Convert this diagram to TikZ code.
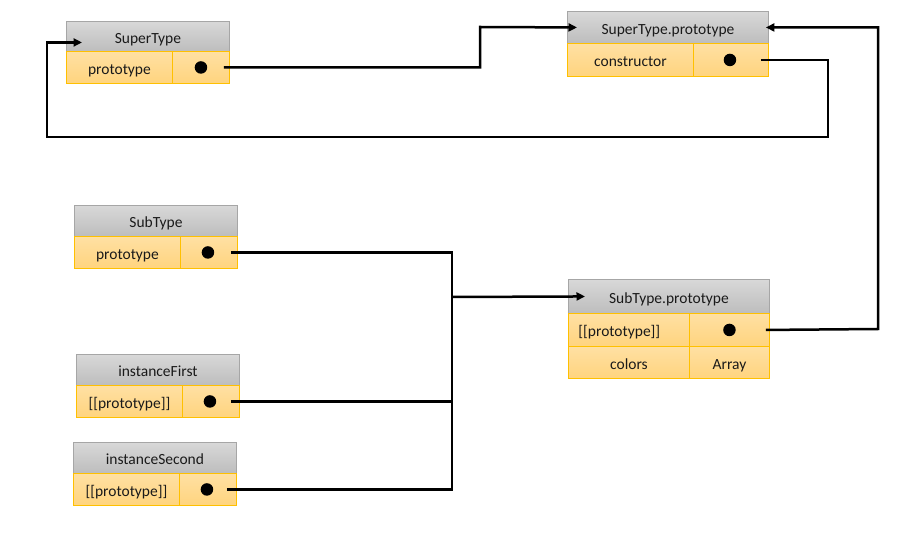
\documentclass[tikz,border=0pt]{standalone}
\usepackage{fontspec}
\setmainfont{Carlito}
\usetikzlibrary{arrows.meta}
\definecolor{hdrtop}{HTML}{D8D8D8}
\definecolor{hdrbot}{HTML}{BDBDBD}
\definecolor{hdrline}{HTML}{A6A6A6}
\definecolor{celltop}{HTML}{FFE0A3}
\definecolor{cellbot}{HTML}{FFD47E}
\definecolor{cellline}{HTML}{FFC000}
\definecolor{txt}{HTML}{1A1A1A}
\tikzset{
  boxbase/.style={line width=0.9pt, inner sep=0pt, anchor=north west, text=txt,
    text height=14pt, text depth=0pt,
    font=\fontsize{15.5}{18}\selectfont},
  hdr/.style={boxbase, draw=hdrline, top color=hdrtop, bottom color=hdrbot},
  cell/.style={boxbase, draw=cellline, top color=celltop, bottom color=cellbot},
  ptrdot/.style={circle, fill=black, inner sep=0pt, minimum size=12.5pt},
  conn/.style={line width=2.5pt, draw=black},
  arr/.style={conn, -{Triangle[length=8.5pt,width=8pt]}}
}
\begin{document}
\begin{tikzpicture}[x=1pt,y=-1pt]
\fill[white] (0,0) rectangle (920,534);
\useasboundingbox (0,0) rectangle (920,534);

% SuperType
\node[hdr, minimum width=163pt, minimum height=30pt] (sth) at (66,21) {SuperType};
\node[cell, minimum width=106pt, minimum height=32pt] (stc1) at (66,51) {prototype};
\node[cell, minimum width=57pt, minimum height=32pt] (stc2) at (172,51) {};
\node[ptrdot] (std) at (stc2.center) {};

% SuperType.prototype
\node[hdr, minimum width=201pt, minimum height=32pt] (spth) at (567,11) {SuperType.prototype};
\node[cell, minimum width=126pt, minimum height=33pt] (spc1) at (567,43) {constructor};
\node[cell, minimum width=75pt, minimum height=33pt] (spc2) at (693,43) {};
\node[ptrdot] (spd) at ([xshift=-1pt]spc2.center) {};

% SubType.prototype
\node[hdr, minimum width=201pt, minimum height=34pt] (sbph) at (568,279) {SubType.prototype};
\node[cell, text width=101pt, inner xsep=10pt, align=left, minimum height=33pt] (sbp1) at (568,313) {[[prototype]]};
\node[cell, minimum width=80pt, minimum height=33pt] (sbp2) at (689,313) {};
\node[ptrdot] (sbpd) at (sbp2.center) {};
\node[cell, minimum width=121pt, minimum height=32pt] (sbp3) at (568,346) {colors};
\node[cell, minimum width=80pt, minimum height=32pt] (sbp4) at (689,346) {Array};

% SubType
\node[hdr, minimum width=163pt, minimum height=31pt] (sbh) at (74,205) {SubType};
\node[cell, minimum width=106pt, minimum height=32pt] (sb1) at (74,236) {prototype};
\node[cell, minimum width=57pt, minimum height=32pt] (sb2) at (180,236) {};
\node[ptrdot] (sbd) at ([xshift=-1pt]sb2.center) {};

% instanceFirst
\node[hdr, minimum width=163pt, minimum height=31pt] (ifh) at (76,354) {instanceFirst};
\node[cell, minimum width=106pt, minimum height=32pt] (if1) at (76,385) {[[prototype]]};
\node[cell, minimum width=57pt, minimum height=32pt] (if2) at (182,385) {};
\node[ptrdot] (ifd) at ([xshift=-1pt]if2.center) {};

% instanceSecond
\node[hdr, minimum width=163pt, minimum height=31pt] (ish) at (73,442) {instanceSecond};
\node[cell, minimum width=106pt, minimum height=32pt] (is1) at (73,473) {[[prototype]]};
\node[cell, minimum width=57pt, minimum height=32pt] (is2) at (179,473) {};
\node[ptrdot] (isd) at ([xshift=-1pt]is2.center) {};

% bend points
\coordinate (k1) at (480,27);
\coordinate (k2) at (828,137);
\coordinate (k3) at (47,137);
\coordinate (k4) at (878,329);
\coordinate (k5) at (452,297);

% SuperType.prototype pointer
\draw[arr] ([xshift=-6pt]stc2.east) -| (k1) -- ([xshift=10pt]spth.west);
% constructor pointer
\draw[arr] ([xshift=-8pt]spc2.east) -| (k2) -- (k3) |- ([xshift=16pt,yshift=-6pt]sth.west);
% SubType.prototype [[prototype]]
\draw[arr] ([xshift=-4pt]sbp2.east) -- (k4) |- ([xshift=-3pt]spth.east);
% pointers to SubType.prototype
\draw[conn] ([xshift=-7pt]sb2.east) -| (k5);
\draw[conn] ([xshift=-9pt]if2.east) -| (k5);
\draw[conn] ([xshift=-10pt]is2.east) -| (k5);
\draw[arr] (k5) -- ([xshift=17pt]sbph.west);
\end{tikzpicture}
\end{document}
